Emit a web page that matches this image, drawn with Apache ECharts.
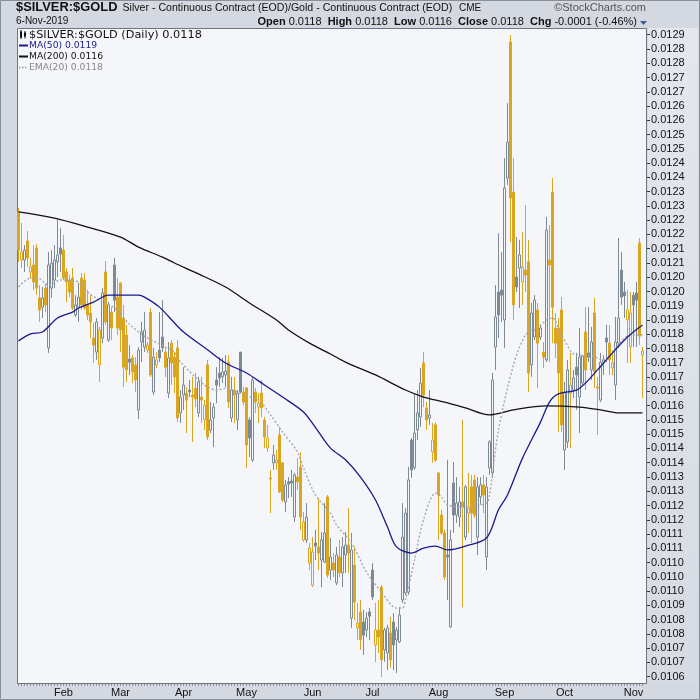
<!DOCTYPE html>
<html><head><meta charset="utf-8">
<script src="https://cdn.jsdelivr.net/npm/echarts@6/dist/echarts.min.js"></script>
<style>html,body{margin:0;padding:0;background:#d3d8e1;}#c{width:700px;height:700px;}</style>
</head><body><div id="c"></div>
<script>
// ---- categories: trading days 2019 (month -> days) ----
const tradingDays = [
  [10,11,14,15,16,17,18,22,23,24,25,28,29,30,31],
  [1,4,5,6,7,8,11,12,13,14,15,19,20,21,22,25,26,27,28],
  [1,4,5,6,7,8,11,12,13,14,15,18,19,20,21,22,25,26,27,28,29],
  [1,2,3,4,5,8,9,10,11,12,15,16,17,18,22,23,24,25,26,29,30],
  [1,2,3,6,7,8,9,10,13,14,15,16,17,20,21,22,23,24,28,29,30,31],
  [3,4,5,6,7,10,11,12,13,14,17,18,19,20,21,24,25,26,27,28],
  [1,2,3,5,8,9,10,11,12,15,16,17,18,19,22,23,24,25,26,29,30,31],
  [1,2,5,6,7,8,9,12,13,14,15,16,19,20,21,22,23,26,27,28,29,30],
  [3,4,5,6,9,10,11,12,13,16,17,18,19,20,23,24,25,26,27,30],
  [1,2,3,4,7,8,9,10,11,14,15,16,17,18,21,22,23,24,25,28,29,30,31],
  [1,4,5,6]
];
const monthNames = ['Jan','Feb','Mar','Apr','May','Jun','Jul','Aug','Sep','Oct','Nov','Dec'];
const dates = [];
tradingDays.forEach((days, m) => days.forEach(d => dates.push('2019-' + String(m + 1).padStart(2,'0') + '-' + String(d).padStart(2,'0'))));

// ---- y tick labels (top to bottom) ----
const yTickLabels = ['0.0129','0.0128','0.0128','0.0127','0.0127','0.0126','0.0126','0.0125','0.0125','0.0124','0.0124','0.0123','0.0123','0.0122','0.0122','0.0121','0.0121','0.0120','0.0120','0.0119','0.0119','0.0118','0.0118','0.0117','0.0117','0.0116','0.0116','0.0115','0.0115','0.0114','0.0114','0.0113','0.0113','0.0112','0.0112','0.0111','0.0111','0.0110','0.0110','0.0110','0.0109','0.0108','0.0108','0.0107','0.0107','0.0106'];
const Y_TOP = 0.0129, Y_BOTTOM = 0.0106;

// ---- OHLC (ratio values) ----
const opens = [0.012265,0.012093,0.012093,0.012161,0.012050,0.012075,0.012136,0.011957,0.011924,0.011992,0.011778,0.011992,0.012021,0.012086,0.012136,0.012128,0.012050,0.012021,0.012028,0.011896,0.011924,0.012028,0.012021,0.011932,0.011903,0.011813,0.011763,0.011717,0.011813,0.012050,0.011806,0.011906,0.012075,0.011960,0.012010,0.011885,0.011824,0.011738,0.011742,0.011717,0.011555,0.011799,0.011781,0.011770,0.011906,0.011620,0.011717,0.011770,0.011817,0.011763,0.011616,0.011795,0.011745,0.011778,0.011545,0.011609,0.011616,0.011627,0.011609,0.011634,0.011545,0.011602,0.011520,0.011717,0.011484,0.011527,0.011663,0.011688,0.011674,0.011681,0.011727,0.011527,0.011627,0.011520,0.011763,0.011620,0.011634,0.011520,0.011376,0.011620,0.011566,0.011616,0.011520,0.011419,0.011312,0.011366,0.011366,0.011466,0.011366,0.011226,0.011298,0.011301,0.011172,0.011315,0.011351,0.011090,0.011090,0.011007,0.010928,0.011079,0.011065,0.011018,0.011011,0.011244,0.010982,0.011007,0.010936,0.011029,0.010972,0.011036,0.011072,0.010810,0.011000,0.010775,0.010832,0.010796,0.010767,0.010832,0.010982,0.010714,0.010767,0.010921,0.010696,0.010685,0.010757,0.010796,0.010732,0.010725,0.010875,0.010900,0.010903,0.011448,0.011348,0.011484,0.011530,0.011724,0.011563,0.011527,0.011405,0.011502,0.011330,0.011179,0.011115,0.011036,0.010778,0.011294,0.011179,0.011172,0.011226,0.011100,0.011186,0.011280,0.011305,0.011100,0.011244,0.011287,0.011029,0.011348,0.011330,0.011781,0.011978,0.011985,0.011878,0.012386,0.012874,0.012336,0.012032,0.012064,0.012014,0.012057,0.012086,0.011717,0.011817,0.011914,0.011817,0.011763,0.011735,0.012093,0.012336,0.011849,0.011849,0.011914,0.011412,0.011441,0.011616,0.011627,0.011709,0.011602,0.011652,0.011835,0.011760,0.011699,0.011903,0.011638,0.011591,0.011727,0.011813,0.011795,0.011706,0.011645,0.011795,0.012057,0.011978,0.011878,0.011781,0.011967,0.011975,0.012154,0.011752];
const closes = [0.012128,0.012121,0.012128,0.012100,0.012068,0.012014,0.011992,0.011914,0.011957,0.011932,0.012075,0.012082,0.012093,0.012111,0.012114,0.012028,0.012014,0.011978,0.011921,0.011932,0.011960,0.011932,0.011921,0.011896,0.011871,0.011788,0.011871,0.011842,0.011975,0.011871,0.011932,0.011849,0.011949,0.011849,0.011842,0.011709,0.011699,0.011727,0.011692,0.011663,0.011770,0.011835,0.011842,0.011788,0.011681,0.011745,0.011735,0.011742,0.011778,0.011709,0.011742,0.011724,0.011674,0.011527,0.011602,0.011645,0.011591,0.011620,0.011602,0.011595,0.011656,0.011591,0.011573,0.011459,0.011520,0.011566,0.011645,0.011670,0.011692,0.011695,0.011584,0.011627,0.011609,0.011616,0.011620,0.011584,0.011430,0.011455,0.011663,0.011584,0.011580,0.011563,0.011459,0.011455,0.011308,0.011394,0.011376,0.011262,0.011233,0.011287,0.011290,0.011294,0.011323,0.011298,0.011172,0.011154,0.011172,0.011061,0.011047,0.011068,0.011043,0.011090,0.011115,0.010964,0.011029,0.010982,0.011036,0.010972,0.011065,0.011072,0.011043,0.011054,0.010868,0.010792,0.010732,0.010749,0.010810,0.010817,0.010886,0.010767,0.010742,0.010660,0.010767,0.010775,0.010660,0.010714,0.010767,0.010821,0.011100,0.011186,0.011305,0.011341,0.011473,0.011545,0.011652,0.011609,0.011520,0.011538,0.011448,0.011376,0.011251,0.011115,0.010957,0.011029,0.011090,0.011179,0.011222,0.011226,0.011208,0.011280,0.011204,0.011186,0.011179,0.011280,0.011287,0.011251,0.011280,0.011441,0.011663,0.011889,0.011896,0.011967,0.012351,0.012515,0.012315,0.011932,0.011996,0.012111,0.012068,0.012039,0.011688,0.011903,0.011949,0.011795,0.011849,0.011745,0.012200,0.012075,0.011924,0.011795,0.011688,0.011502,0.011620,0.011699,0.011645,0.011670,0.011681,0.011745,0.011749,0.011699,0.011745,0.011799,0.011692,0.011634,0.011727,0.011735,0.011799,0.011735,0.011724,0.011799,0.011885,0.011960,0.011964,0.011914,0.011903,0.011932,0.011949,0.011820,0.011767];
const lows = [0.012086,0.012064,0.012050,0.012068,0.012028,0.011985,0.011967,0.011871,0.011885,0.011906,0.011760,0.011957,0.011992,0.012032,0.012050,0.012021,0.011942,0.011960,0.011914,0.011889,0.011871,0.011914,0.011914,0.011878,0.011813,0.011724,0.011735,0.011656,0.011795,0.011860,0.011799,0.011806,0.011906,0.011824,0.011763,0.011638,0.011656,0.011681,0.011652,0.011620,0.011523,0.011727,0.011763,0.011760,0.011674,0.011609,0.011706,0.011727,0.011763,0.011674,0.011598,0.011645,0.011616,0.011512,0.011509,0.011555,0.011473,0.011602,0.011441,0.011566,0.011530,0.011509,0.011484,0.011448,0.011473,0.011423,0.011580,0.011638,0.011652,0.011638,0.011563,0.011512,0.011509,0.011484,0.011616,0.011573,0.011348,0.011387,0.011369,0.011545,0.011509,0.011530,0.011419,0.011405,0.011186,0.011341,0.011341,0.011258,0.011226,0.011190,0.011240,0.011244,0.011154,0.011269,0.011126,0.011083,0.011079,0.010982,0.010921,0.011018,0.010982,0.010921,0.011007,0.010954,0.010946,0.010957,0.010928,0.010957,0.010921,0.010972,0.010972,0.010775,0.010803,0.010732,0.010696,0.010678,0.010742,0.010732,0.010875,0.010653,0.010685,0.010599,0.010653,0.010624,0.010631,0.010624,0.010613,0.010721,0.010864,0.010893,0.010893,0.011312,0.011341,0.011448,0.011495,0.011566,0.011484,0.011502,0.011366,0.011369,0.011090,0.011108,0.010947,0.010875,0.010775,0.011115,0.011151,0.011136,0.010849,0.011090,0.011115,0.011079,0.011169,0.011036,0.011216,0.011186,0.010982,0.011323,0.011312,0.011699,0.011813,0.011871,0.011778,0.012361,0.012157,0.011878,0.011978,0.011921,0.011932,0.011978,0.011620,0.011674,0.011806,0.011634,0.011806,0.011706,0.011728,0.011727,0.011795,0.011742,0.011477,0.011477,0.011341,0.011419,0.011419,0.011598,0.011556,0.011473,0.011641,0.011627,0.011727,0.011663,0.011634,0.011466,0.011584,0.011681,0.011727,0.011681,0.011681,0.011591,0.011778,0.011932,0.011885,0.011724,0.011724,0.011781,0.011781,0.011788,0.011598];
const highs = [0.012279,0.012225,0.012146,0.012197,0.012100,0.012146,0.012150,0.012003,0.011996,0.012010,0.012121,0.012128,0.012146,0.012236,0.012207,0.012182,0.012064,0.012039,0.012064,0.011967,0.012010,0.012046,0.012046,0.011985,0.011967,0.011867,0.011885,0.011853,0.011992,0.012089,0.011942,0.011924,0.012100,0.012028,0.012014,0.011932,0.011860,0.011788,0.011752,0.011745,0.011781,0.011871,0.011906,0.011799,0.011921,0.011778,0.011763,0.011906,0.011949,0.011781,0.011799,0.011806,0.011763,0.011806,0.011627,0.011709,0.011638,0.011663,0.011674,0.011688,0.011674,0.011674,0.011591,0.011735,0.011584,0.011580,0.011709,0.011745,0.011742,0.011752,0.011752,0.011674,0.011674,0.011627,0.011763,0.011638,0.011638,0.011530,0.011674,0.011634,0.011616,0.011663,0.011530,0.011502,0.011341,0.011430,0.011412,0.011495,0.011369,0.011305,0.011315,0.011341,0.011330,0.011383,0.011405,0.011190,0.011222,0.011079,0.011100,0.011126,0.011240,0.011118,0.011222,0.011251,0.011097,0.011043,0.011065,0.011090,0.011100,0.011118,0.011204,0.011115,0.011065,0.010864,0.010875,0.010839,0.010832,0.010846,0.011007,0.010864,0.010875,0.010928,0.010775,0.010786,0.010814,0.010828,0.010778,0.010850,0.011222,0.011204,0.011351,0.011455,0.011616,0.011627,0.011706,0.011763,0.011584,0.011627,0.011509,0.011512,0.011333,0.011198,0.011126,0.011377,0.011126,0.011369,0.011315,0.011280,0.011520,0.011287,0.011330,0.011323,0.011323,0.011315,0.011315,0.011323,0.011315,0.011448,0.011688,0.012003,0.012189,0.012121,0.012458,0.012655,0.012899,0.012458,0.012175,0.012165,0.012193,0.012290,0.012165,0.011939,0.011967,0.011939,0.011860,0.011799,0.012247,0.012218,0.012386,0.011903,0.011885,0.011960,0.011656,0.011735,0.011760,0.011699,0.011760,0.011849,0.011752,0.011924,0.011924,0.011853,0.011957,0.011674,0.011760,0.011752,0.011860,0.011860,0.011771,0.011889,0.012172,0.012121,0.012014,0.011986,0.011978,0.011978,0.012014,0.012172,0.011781];

// ---- moving averages: [day index, value] ----
const ma50 = [[0,0.011803],[4,0.011828],[8,0.011835],[13,0.011885],[18,0.011906],[20,0.011921],[25,0.011942],[30,0.011967],[40,0.011967],[42,0.011960],[47,0.011924],[52,0.011867],[55,0.011835],[63,0.011771],[69,0.011724],[76,0.011688],[82,0.011645],[88,0.011602],[95,0.011548],[100,0.011477],[104,0.011419],[109,0.011377],[114,0.011315],[119,0.011233],[123,0.011136],[126,0.011065],[131,0.011043],[135,0.011061],[139,0.011068],[143,0.011054],[149,0.011068],[156,0.011097],[160,0.011198],[163,0.011251],[168,0.011383],[174,0.011512],[177,0.011584],[180,0.011613],[186,0.011627],[189,0.011652],[193,0.011699],[198,0.011760],[203,0.011817],[208,0.011860]];
const ma200 = [[0,0.012265],[12,0.012243],[23,0.012211],[34,0.012175],[40,0.012139],[48,0.012103],[52,0.012082],[60,0.012043],[69,0.011996],[77,0.011939],[86,0.011878],[90,0.011842],[97,0.011795],[104,0.011756],[109,0.011727],[119,0.011681],[129,0.011627],[135,0.011602],[142,0.011584],[149,0.011563],[157,0.011538],[165,0.011556],[176,0.011570],[187,0.011566],[194,0.011556],[200,0.011545],[208,0.011545]];
const ema20 = [[0,0.011996],[4,0.012028],[7,0.012025],[10,0.012003],[14,0.012021],[20,0.012014],[23,0.011978],[28,0.011942],[32,0.011921],[37,0.011863],[42,0.011820],[49,0.011781],[52,0.011763],[54,0.011727],[62,0.011645],[66,0.011627],[69,0.011634],[75,0.011609],[80,0.011591],[84,0.011538],[88,0.011477],[93,0.011405],[95,0.011348],[99,0.011251],[104,0.011186],[106,0.011144],[111,0.011079],[116,0.010975],[121,0.010903],[126,0.010846],[128,0.010846],[129,0.010875],[132,0.011018],[135,0.011162],[139,0.011258],[141,0.011244],[143,0.011216],[149,0.011208],[156,0.011222],[157,0.011251],[160,0.011484],[165,0.011717],[169,0.011824],[173,0.011849],[176,0.011878],[178,0.011885],[181,0.011824],[186,0.011752],[190,0.011752],[195,0.011735],[199,0.011778],[204,0.011824],[208,0.011824]];

// ---- styling ----
const GOLD = '#daa520', GRAY = '#7c8a95', PLOT_BG = '#f5f6fa';
const FONT = '"Liberation Sans", Arial, sans-serif';
const LFONT = '"DejaVu Sans", sans-serif';

const candleData = opens.map((o, i) => {
  const c = closes[i];
  const down = i === 0 ? true : c < closes[i - 1];
  const col = down ? GOLD : GRAY;
  const fill = c > o ? PLOT_BG : col;
  return { value: [o, c, lows[i], highs[i]],
    itemStyle: { color: fill, color0: fill, borderColor: col, borderColor0: col, borderColorDoji: col, borderWidth: 1 } };
});

const Y_STEP = (Y_TOP - Y_BOTTOM) / (yTickLabels.length - 1);
const isMonthStart = (i) => i > 0 && dates[i].slice(5, 7) !== dates[i - 1].slice(5, 7);

const chart = echarts.init(document.getElementById('c'), null, { renderer: 'canvas', width: 700, height: 700 });
chart.setOption({
  animation: false,
  backgroundColor: '#d3d8e1',
  grid: { left: 17, right: 56, top: 34.7, bottom: 23.3, containLabel: false },
  xAxis: {
    type: 'category', data: dates, boundaryGap: true, offset: 7.3,
    axisLine: { show: false },
    axisTick: { show: true, interval: 0, length: 2, alignWithLabel: true, lineStyle: { color: '#8e95a2', width: 1 } },
    axisLabel: { interval: (idx) => isMonthStart(idx), formatter: (v) => monthNames[+v.slice(5, 7) - 1],
      color: '#111', fontSize: 11, fontFamily: FONT, margin: 3 },
    splitLine: { show: false }
  },
  yAxis: {
    type: 'value', position: 'right', min: Y_BOTTOM, max: Y_TOP, interval: Y_STEP, offset: 3,
    axisLine: { show: false },
    axisTick: { show: true, length: 3, lineStyle: { color: '#333' } },
    axisLabel: { margin: 4, color: '#111', fontSize: 11, fontFamily: FONT,
      formatter: (v) => { const k = Math.round((Y_TOP - v) / Y_STEP); return yTickLabels[k] || ''; } },
    splitLine: { show: false }
  },
  series: [
    { type: 'candlestick', data: candleData, barWidth: 3, clip: false, z: 3,
      itemStyle: { borderWidth: 1 } },
    { type: 'line', data: ma200, showSymbol: false, smooth: 0.3, z: 4, silent: true,
      lineStyle: { color: '#111', width: 1.3 } },
    { type: 'line', data: ma50, showSymbol: false, smooth: 0.3, z: 5, silent: true,
      lineStyle: { color: '#1a1a8e', width: 1.3 } },
    { type: 'line', data: ema20, showSymbol: false, smooth: 0.3, z: 4, silent: true,
      lineStyle: { color: '#a3a7ad', width: 1.4, type: [2, 2] } }
  ],
  graphic: [
    { type: 'rect', z: -10, shape: { x: 17.5, y: 28.5, width: 629, height: 655 }, style: { fill: PLOT_BG, stroke: '#6e7582', lineWidth: 1 } },
    { type: 'rect', z: -10, shape: { x: 648, y: 28, width: 50, height: 656 },
      style: { fill: new echarts.graphic.LinearGradient(0, 0, 0, 1, [{ offset: 0, color: '#e4e7ed' }, { offset: 1, color: '#d6dbe3' }]) } },
    { type: 'rect', z: -10, shape: { x: 0.5, y: 0.5, width: 699, height: 699 }, style: { fill: 'none', stroke: '#8a909a', lineWidth: 1 } },
    // header
    { type: 'text', z: 100, style: { x: 16, y: 14, text: '$SILVER:$GOLD', font: 'bold 12.9px ' + FONT, fill: '#111', textVerticalAlign: 'bottom' } },
    { type: 'text', z: 100, style: { x: 122.5, y: 13.5, text: 'Silver - Continuous Contract (EOD)/Gold - Continuous Contract (EOD)', font: '10.6px ' + FONT, fill: '#111', textVerticalAlign: 'bottom' } },
    { type: 'text', z: 100, style: { x: 459, y: 13.5, text: 'CME', font: '10px ' + FONT, fill: '#111', textVerticalAlign: 'bottom' } },
    { type: 'text', z: 100, style: { x: 646, y: 13.5, text: '\u00a9StockCharts.com', font: '11px ' + FONT, fill: '#555', textAlign: 'right', textVerticalAlign: 'bottom' } },
    { type: 'text', z: 100, style: { x: 16, y: 26.5, text: '6-Nov-2019', font: '10px ' + FONT, fill: '#111', textVerticalAlign: 'bottom' } },
    { type: 'text', z: 100, style: { x: 637, y: 27, textAlign: 'right', textVerticalAlign: 'bottom', font: '11px ' + FONT, fill: '#111',
      text: '{b|Open} 0.0118  {b|High} 0.0118  {b|Low} 0.0116  {b|Close} 0.0118  {b|Chg} -0.0001 (-0.46%)',
      rich: { b: { font: 'bold 11px ' + FONT, fill: '#111' } } } },
    { type: 'polygon', z: 100, shape: { points: [[640, 21], [647, 21], [643.5, 25]] }, style: { fill: '#3b5998' } },
    // in-plot legend
    { type: 'rect', z: 100, shape: { x: 20, y: 31.5, width: 2, height: 6 }, style: { fill: '#111' } },
    { type: 'rect', z: 100, shape: { x: 24, y: 32.5, width: 2, height: 4 }, style: { fill: '#111' } },
    { type: 'line', z: 100, shape: { x1: 21, y1: 30, x2: 21, y2: 39 }, style: { stroke: '#111', lineWidth: 1 } },
    { type: 'line', z: 100, shape: { x1: 25, y1: 31, x2: 25, y2: 38.5 }, style: { stroke: '#111', lineWidth: 1 } },
    { type: 'text', z: 100, style: { x: 29, y: 35, text: '$SILVER:$GOLD (Daily) 0.0118', font: '11.3px ' + LFONT, fill: '#111', textVerticalAlign: 'middle' } },
    { type: 'line', z: 100, shape: { x1: 19, y1: 45.5, x2: 28, y2: 45.5 }, style: { stroke: '#1a1a8e', lineWidth: 2 } },
    { type: 'text', z: 100, style: { x: 29, y: 46, text: 'MA(50) 0.0119', font: '9.2px ' + LFONT, fill: '#1a1a8e', textVerticalAlign: 'middle' } },
    { type: 'line', z: 100, shape: { x1: 19, y1: 56.5, x2: 28, y2: 56.5 }, style: { stroke: '#111', lineWidth: 2 } },
    { type: 'text', z: 100, style: { x: 29, y: 57, text: 'MA(200) 0.0116', font: '9.2px ' + LFONT, fill: '#111', textVerticalAlign: 'middle' } },
    { type: 'line', z: 100, shape: { x1: 19, y1: 67.5, x2: 28, y2: 67.5 }, style: { stroke: '#999', lineWidth: 1.5, lineDash: [1.5, 1.5] } },
    { type: 'text', z: 100, style: { x: 29, y: 68, text: 'EMA(20) 0.0118', font: '9.2px ' + LFONT, fill: '#888', textVerticalAlign: 'middle' } }
  ]
});
</script></body></html>
